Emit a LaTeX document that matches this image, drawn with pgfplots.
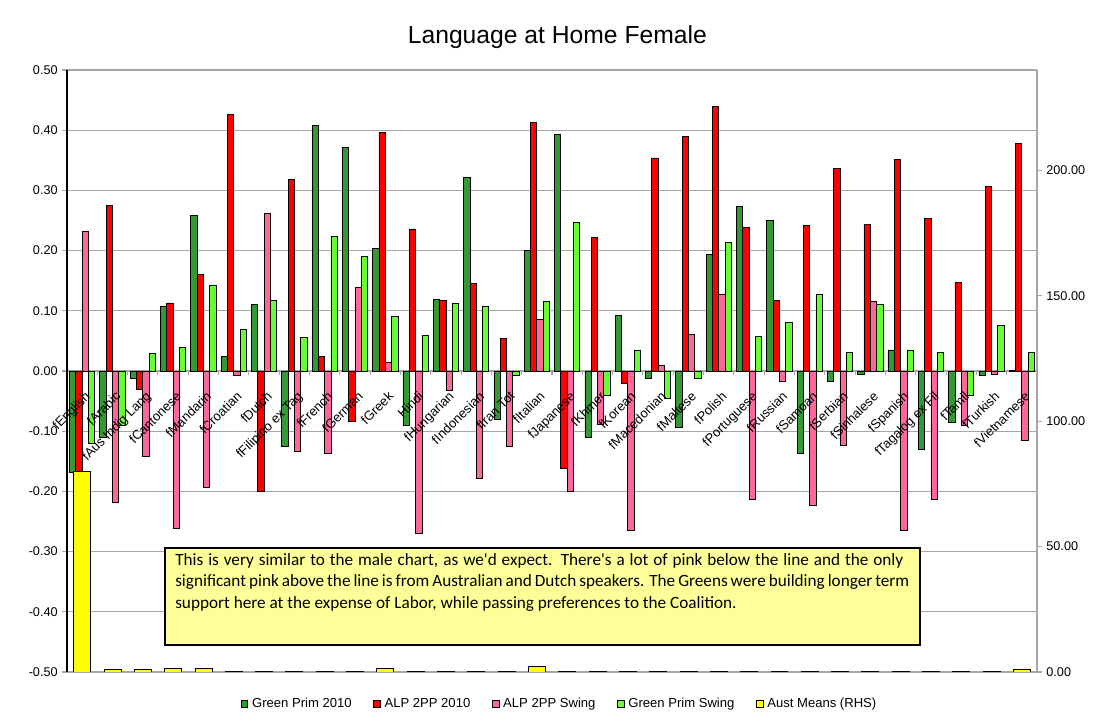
\documentclass[border=0pt]{standalone}
\usepackage{fontspec}
\setmainfont{Liberation Sans}
\newfontfamily\notefont{Carlito}
\usepackage{pgfplots}
\pgfplotsset{compat=1.18}
\usepackage{pgfplotstable}

\definecolor{gprim}{HTML}{339933}
\definecolor{alp}{HTML}{FF0000}
\definecolor{alpsw}{HTML}{FF6699}
\definecolor{gsw}{HTML}{66FF33}
\definecolor{aust}{HTML}{FFFF00}
\definecolor{notebg}{HTML}{FFFF99}
\definecolor{gridc}{HTML}{A6A6A6}

\pgfplotstableread{
x G R P L Y
0 -0.168 -0.168 0.232 -0.120 80.0
1 -0.111 0.275 -0.219 -0.090 1.0
2 -0.013 -0.030 -0.141 0.030 1.0
3 0.108 0.113 -0.261 0.039 1.5
4 0.259 0.160 -0.193 0.143 1.5
5 0.024 0.426 -0.008 0.069 0.3
6 0.111 -0.200 0.261 0.117 0.3
7 -0.126 0.318 -0.134 0.056 0.3
8 0.408 0.024 -0.137 0.223 0.3
9 0.372 -0.084 0.139 0.190 0.3
10 0.204 0.396 0.014 0.091 1.5
11 -0.090 0.236 -0.270 0.060 0.3
12 0.119 0.117 -0.033 0.112 0.3
13 0.322 0.145 -0.179 0.108 0.3
14 -0.081 0.054 -0.126 -0.008 0.3
15 0.200 0.413 0.085 0.115 2.3
16 0.393 -0.162 -0.200 0.247 0.3
17 -0.110 0.222 -0.088 -0.041 0.3
18 0.093 -0.021 -0.264 0.035 0.3
19 -0.012 0.354 0.009 -0.045 0.3
20 -0.093 0.389 0.061 -0.013 0.3
21 0.193 0.439 0.128 0.214 0.3
22 0.274 0.238 -0.213 0.057 0.3
23 0.251 0.117 -0.018 0.081 0.3
24 -0.137 0.242 -0.224 0.128 0.3
25 -0.017 0.337 -0.123 0.031 0.3
26 -0.006 0.244 0.115 0.111 0.3
27 0.035 0.352 -0.265 0.035 0.3
28 -0.130 0.253 -0.213 0.031 0.3
29 -0.085 0.147 -0.090 -0.040 0.3
30 -0.008 0.307 -0.006 0.076 0.3
31 0.001 0.378 -0.116 0.031 1.2
}\data

\pgfplotsset{
  plotarea/.style={at={(50.25pt,39pt)}, anchor=south west,
    scale only axis, width=727.5pt, height=451.5pt, xmin=-0.5, xmax=31.5},
  ticknum/.style={font=\fontsize{9.5}{11}\selectfont, /pgf/number format/.cd, fixed, fixed zerofill, precision=2, assume math mode=true},
}

\begin{document}
\begin{tikzpicture}
\path[use as bounding box] (0,0) rectangle (831.75pt,543pt);
\node[font=\fontsize{18.5}{22}\selectfont] at (418pt,515.5pt) {Language at Home Female};

\begin{axis}[
  plotarea, ymin=-0.5, ymax=0.5,
  axis y line*=left, axis x line*=middle,
  hide obscured y ticks=false, hide obscured x ticks=false,
  y axis line style={black, line width=0.8pt},
  x axis line style={gridc, line width=0.9pt},
  ytick={-0.5,-0.4,-0.3,-0.2,-0.1,0,0.1,0.2,0.3,0.4,0.5},
  ymajorgrids, grid style={gridc, line width=0.9pt},
  tick align=outside, major tick length=3.5pt, minor tick length=3pt,
  major y tick style={gridc, line width=0.8pt},
  yticklabel style={ticknum},
  xtick={0,...,31}, xticklabels={},
  major x tick style={draw=none},
  minor xtick={-0.5,0.5,...,31.5},
  minor x tick style={gridc, line width=0.8pt},
  ybar, bar width=0.208,
  every axis plot/.append style={draw=black, line width=0.55pt},
  legend image code/.code={\draw[#1, line width=0.5pt] (0pt,-2.6pt) rectangle (5.2pt,2.6pt);},
  legend style={at={(0.508,-0.053)}, anchor=center, legend columns=5, draw=none,
    font=\fontsize{9.8}{11}\selectfont, fill=none,
    /tikz/every even column/.append style={column sep=14pt},
    /tikz/every odd column/.append style={column sep=1pt}},
]
\addplot[fill=gprim, bar shift=-0.312] table[x=x,y=G]{\data};
\addlegendentry{Green Prim 2010}
\addplot[fill=alp, bar shift=-0.104] table[x=x,y=R]{\data};
\addlegendentry{ALP 2PP 2010}
\addplot[fill=alpsw, bar shift=0.104] table[x=x,y=P]{\data};
\addlegendentry{ALP 2PP Swing}
\addplot[fill=gsw, bar shift=0.312] table[x=x,y=L]{\data};
\addlegendentry{Green Prim Swing}
\addlegendimage{fill=aust, draw=black}
\addlegendentry{Aust Means (RHS)}
\end{axis}

\begin{axis}[
  plotarea, ymin=0, ymax=240,
  axis y line*=right, axis x line=none,
  y axis line style={gridc, line width=0.9pt},
  ytick={0,50,100,150,200},
  tick align=outside, major tick length=3.5pt,
  major y tick style={gridc, line width=0.8pt},
  yticklabel style={ticknum},
  ybar, bar width=0.56,
]
\addplot[fill=aust, draw=black, line width=0.55pt, bar shift=0] table[x=x,y=Y]{\data};
\end{axis}

% category labels drawn on top of the bars
\begin{axis}[
  plotarea, ymin=-0.5, ymax=0.5,
  axis y line=none, axis x line*=middle,
  x axis line style={draw=none},
  hide obscured x ticks=false,
  xtick={0,...,31},
  xticklabels={fEnglish, fArabic, fAus Indig Lang, fCantonese, fMandarin, fCroatian, fDutch, fFilipino ex Tag, fFrench, fGerman, fGreek, Hindi, fHungarian, fIndonesian, fIran Tot, fItalian, fJapanese, fKhmer, fKorean, fMacedonian, fMaltese, fPolish, fPortuguese, fRussian, fSamoan, fSerbian, fSinhalese, fSpanish, fTagalog ex Fil, fTamil, fTurkish, fVietnamese},
  xticklabel style={xshift=1.5pt, yshift=-13pt, rotate=45, anchor=north east, font=\fontsize{9.8}{11}\selectfont, inner sep=1pt},
  major x tick style={draw=none},
]
\addplot[draw=none, forget plot] coordinates {(0,0)};
\end{axis}

\draw[line width=2.2pt, fill=notebg] (123.75pt,59.25pt) rectangle (690pt,132pt);
\node[anchor=north west, font=\notefont\fontsize{12.9}{16}\selectfont, align=left, inner sep=0pt] at (131.25pt,128pt)
{\spaceskip=0.226em plus 0.3em minus 0.15em
\hbox to 546pt{This is very similar to the male chart, as we'd expect. There's a lot of pink below the line and the only}\\
\hbox to 550.5pt{\spaceskip=0.226em plus 0.3em minus 0.15em significant pink above the line is from Australian and Dutch speakers. The Greens were building longer term}\\
support here at the expense of Labor, while passing preferences to the Coalition.};
\end{tikzpicture}
\end{document}
